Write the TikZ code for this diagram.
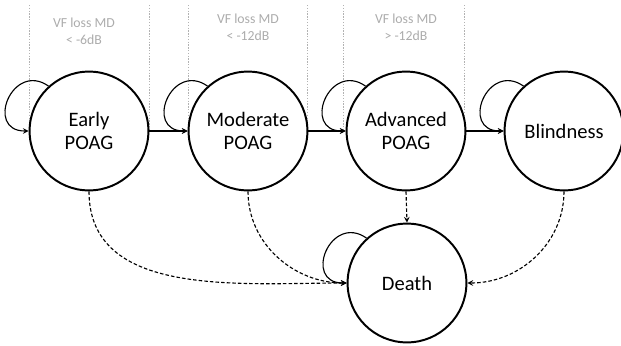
\documentclass[tikz,border=0pt]{standalone}
\usepackage{fontspec}
\setmainfont{Carlito}
\begin{document}
\begin{tikzpicture}[x=0.025cm, y=-0.025cm, >=stealth,
  state/.style={circle, draw, line width=1.4pt, minimum size=2.97cm, inner sep=0pt, align=center, fill=white,
    font=\fontsize{14.6}{16.5}\selectfont},
  band/.style={gray!65, align=center, font=\fontsize{9.8}{12}\selectfont},
  sep/.style={gray!60, line width=0.4pt, dash pattern=on 1pt off 1pt},
  move/.style={->, line width=0.8pt},
  die/.style={->, line width=0.8pt, dash pattern=on 2.5pt off 1.5pt}]
  \useasboundingbox (0,0) rectangle (621,345);
  % stage boundaries
  \draw[sep] (29,5) -- (29,131);
  \draw[sep] (149,5) -- (149,131);
  \draw[sep] (188,5) -- (188,131);
  \draw[sep] (307,5) -- (307,131);
  \draw[sep] (343,5) -- (343,131);
  \draw[sep] (464,5) -- (464,131);
  \node[band] (mild) at (84,31) {VF loss MD\\< -6dB};
  \node[band] (mod) at (248,27) {VF loss MD\\< -12dB};
  \node[band] (adv) at (406,27) {VF loss MD\\> -12dB};
  % states
  \node[state] (early) at (89,131) {Early\\POAG};
  \node[state] (moderate) at (248,131) {Moderate\\POAG};
  \node[state] (advanced) at (406,131) {Advanced\\POAG};
  \node[state] (blind) at (564,131) {Blindness};
  \node[state] (death) at (407,283) {Death};
  % progression
  \draw[move] (early) -- (moderate);
  \draw[move] (moderate) -- (advanced);
  \draw[move] (advanced) -- (blind);
  % staying in a state
  \draw[move] (early.132) to[out=145, in=180, looseness=2.3] (early.west);
  \draw[move] (moderate.132) to[out=145, in=180, looseness=2.3] (moderate.west);
  \draw[move] (advanced.132) to[out=145, in=180, looseness=2.3] (advanced.west);
  \draw[move] (blind.132) to[out=145, in=180, looseness=2.3] (blind.west);
  \draw[move] (death.132) to[out=145, in=180, looseness=2.3] (death.west);
  % dying
  \draw[die] (early.south) to[out=-90, in=180] (death.west);
  \draw[die] (moderate.south) to[out=-90, in=180] (death.west);
  \draw[die] (advanced.south) -- (death.north);
  \draw[die] (blind.south) to[out=-90, in=0] (death.east);
\end{tikzpicture}
\end{document}
